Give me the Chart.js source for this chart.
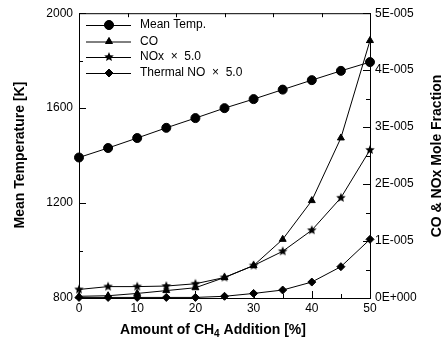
<!DOCTYPE html>
<html>
<head>
<meta charset="utf-8">
<script src="https://cdn.jsdelivr.net/npm/chart.js@4/dist/chart.umd.min.js"></script>
<style>
  html, body { margin: 0; padding: 0; background: #fff; }
  #wrap { width: 448px; height: 345px; }
</style>
</head>
<body>
<div id="wrap"><canvas id="c" width="448" height="345"></canvas></div>
<script>
// CH4 addition amount [%]
const categories = [0, 5, 10, 15, 20, 25, 30, 35, 40, 45, 50];
// Mean temperature [K] (left axis)
const meanTemp = [1392, 1432, 1474, 1517, 1558, 1600, 1638, 1678, 1718, 1757, 1794];
// Mole fractions (right axis)
const coFrac = [0.03e-5, 0.04e-5, 0.08e-5, 0.13e-5, 0.18e-5, 0.36e-5, 0.57e-5, 1.03e-5, 1.71e-5, 2.81e-5, 4.52e-5];
const noxX5 = [0.15e-5, 0.20e-5, 0.20e-5, 0.21e-5, 0.25e-5, 0.36e-5, 0.57e-5, 0.82e-5, 1.19e-5, 1.76e-5, 2.60e-5];
const thermalNoX5 = [0.01e-5, 0.01e-5, 0.01e-5, 0.01e-5, 0.01e-5, 0.03e-5, 0.08e-5, 0.14e-5, 0.28e-5, 0.55e-5, 1.03e-5];
// Axis tick values
const xTicks = [0, 10, 20, 30, 40, 50];
const tempTicks = [800, 1200, 1600, 2000];
const fracTicks = [0, 1e-5, 2e-5, 3e-5, 4e-5, 5e-5];
const legendLabels = ['Mean Temp.', 'CO', 'NOx  \u00D7  5.0', 'Thermal NO  \u00D7  5.0'];

const FONT = "'Liberation Sans', Arial, sans-serif";

// filled five-point star marker
function makeStar(r) {
  const size = Math.ceil(r * 2 + 2);
  const cv = document.createElement('canvas');
  cv.width = size; cv.height = size;
  const g = cv.getContext('2d');
  const cx = size / 2, cy = size / 2;
  g.beginPath();
  for (let i = 0; i < 10; i++) {
    const rad = i % 2 === 0 ? r : r * 0.45;
    const a = -Math.PI / 2 + i * Math.PI / 5;
    const px = cx + rad * Math.cos(a), py = cy + rad * Math.sin(a);
    if (i === 0) g.moveTo(px, py); else g.lineTo(px, py);
  }
  g.closePath();
  g.fillStyle = '#000';
  g.fill();
  return cv;
}
const starImg = makeStar(5);

function pts(vals) { return categories.map((x, i) => ({ x: x, y: vals[i] })); }

function sciLabel(v) {
  if (Math.abs(v) < 1e-12) return '0E+000';
  const parts = v.toExponential(0).split('e');
  const ex = parseInt(parts[1], 10);
  const sign = ex < 0 ? '-' : '+';
  return parts[0] + 'E' + sign + String(Math.abs(ex)).padStart(3, '0');
}

const series = [
  { label: legendLabels[0], data: pts(meanTemp), yAxisID: 'y', pointStyle: 'circle', pointRadius: 4.5 },
  { label: legendLabels[1], data: pts(coFrac), yAxisID: 'y2', pointStyle: 'triangle', pointRadius: 4 },
  { label: legendLabels[2], data: pts(noxX5), yAxisID: 'y2', pointStyle: starImg, pointRadius: 5 },
  { label: legendLabels[3], data: pts(thermalNoX5), yAxisID: 'y2', pointStyle: 'rectRot', pointRadius: 4 }
].map(d => Object.assign({
  borderColor: '#000', backgroundColor: '#000', pointBackgroundColor: '#000', pointBorderColor: '#000',
  borderWidth: 1, pointBorderWidth: 1, tension: 0, clip: false, fill: false
}, d));

// inward tick marks, frame top, legend and axis titles
const decorPlugin = {
  id: 'decor',
  afterDraw(chart) {
    const ctx = chart.ctx;
    const a = chart.chartArea;
    const sx = chart.scales.x, sy = chart.scales.y, sy2 = chart.scales.y2;
    ctx.save();
    ctx.strokeStyle = '#000';
    ctx.lineWidth = 1;
    // top frame line
    ctx.beginPath();
    ctx.moveTo(a.left, a.top + 0.5); ctx.lineTo(a.right, a.top + 0.5);
    ctx.stroke();
    ctx.beginPath();
    // bottom axis ticks
    for (let v = 0; v <= 50; v += 5) {
      const px = Math.round(sx.getPixelForValue(v)) + 0.5;
      const len = v % 10 === 0 ? 7 : 4;
      ctx.moveTo(px, a.bottom); ctx.lineTo(px, a.bottom - len);
    }
    // top axis ticks
    for (let k = 1; k < 6; k++) {
      const px = Math.round(a.left + (a.right - a.left) * k / 6) + 0.5;
      ctx.moveTo(px, a.top); ctx.lineTo(px, a.top + 4);
    }
    // left axis ticks
    for (let v = 800; v <= 2000; v += 200) {
      const py = Math.round(sy.getPixelForValue(v)) + 0.5;
      const len = v % 400 === 0 ? 7 : 4;
      ctx.moveTo(a.left, py); ctx.lineTo(a.left + len, py);
    }
    // right axis ticks
    for (let k = 0; k <= 10; k++) {
      const v = k * 0.5e-5;
      const py = Math.round(sy2.getPixelForValue(v)) + 0.5;
      const len = k % 2 === 0 ? 7 : 4;
      ctx.moveTo(a.right, py); ctx.lineTo(a.right - len, py);
    }
    ctx.stroke();

    // legend
    const rows = [25, 41.5, 57, 73];
    ctx.font = '12px ' + FONT;
    ctx.fillStyle = '#000';
    ctx.textBaseline = 'middle';
    ctx.textAlign = 'left';
    chart.data.datasets.forEach((ds, i) => {
      const y = rows[i];
      ctx.beginPath();
      ctx.moveTo(86, y + 0.5); ctx.lineTo(131, y + 0.5);
      ctx.stroke();
      Chart.helpers.drawPoint(ctx, {
        pointStyle: ds.pointStyle, radius: ds.pointRadius, rotation: 0, borderWidth: 1
      }, 109, y);
      ctx.fillStyle = '#000';
      ctx.fill();
      ctx.fillText(ds.label, 140, y);
    });

    // axis titles
    ctx.font = 'bold 14px ' + FONT;
    ctx.textAlign = 'center';
    ctx.textBaseline = 'middle';
    ctx.save();
    ctx.translate(20.5, 155);
    ctx.rotate(-Math.PI / 2);
    ctx.fillText('Mean Temperature [K]', 0, 0);
    ctx.restore();
    ctx.save();
    ctx.translate(437, 156);
    ctx.rotate(-Math.PI / 2);
    ctx.fillText('CO & NOx Mole Fraction', 0, 0);
    ctx.restore();

    // x title with subscript
    const p1 = 'Amount of CH', p2 = '4', p3 = ' Addition [%]';
    ctx.font = 'bold 14px ' + FONT;
    const w1 = ctx.measureText(p1).width, w3 = ctx.measureText(p3).width;
    ctx.font = 'bold 10px ' + FONT;
    const w2 = ctx.measureText(p2).width;
    let x0 = 213 - (w1 + w2 + w3) / 2;
    ctx.textAlign = 'left';
    ctx.font = 'bold 14px ' + FONT;
    ctx.fillText(p1, x0, 330);
    ctx.font = 'bold 10px ' + FONT;
    ctx.fillText(p2, x0 + w1, 334);
    ctx.font = 'bold 14px ' + FONT;
    ctx.fillText(p3, x0 + w1 + w2, 330);
    ctx.restore();
  }
};

const axisBorder = { display: true, color: '#000', width: 1 };
const noGrid = { display: false, drawTicks: false };
const tickFont = { family: FONT, size: 12 };

new Chart(document.getElementById('c'), {
  type: 'line',
  data: { datasets: series },
  options: {
    responsive: false,
    animation: false,
    devicePixelRatio: 1,
    layout: { padding: { top: 8, left: 0, right: 0, bottom: 0 } },
    plugins: { legend: { display: false }, tooltip: { enabled: false } },
    scales: {
      x: {
        type: 'linear', min: 0, max: 50,
        grid: noGrid, border: axisBorder,
        afterBuildTicks: s => { s.ticks = xTicks.map(v => ({ value: v })); },
        ticks: { color: '#000', font: tickFont, padding: 3, maxRotation: 0, callback: v => String(v) },
        afterFit: s => { s.height = 47; }
      },
      y: {
        type: 'linear', position: 'left', min: 800, max: 2000,
        grid: noGrid, border: axisBorder,
        afterBuildTicks: s => { s.ticks = tempTicks.map(v => ({ value: v })); },
        ticks: { color: '#000', font: tickFont, padding: 6, callback: v => String(v) },
        afterFit: s => { s.width = 79; }
      },
      y2: {
        type: 'linear', position: 'right', min: 0, max: 5e-5,
        grid: noGrid, border: axisBorder,
        afterBuildTicks: s => { s.ticks = fracTicks.map(v => ({ value: v })); },
        ticks: { color: '#000', font: tickFont, padding: 5, callback: v => sciLabel(v) },
        afterFit: s => { s.width = 78; }
      }
    }
  },
  plugins: [decorPlugin]
});
</script>
</body>
</html>
